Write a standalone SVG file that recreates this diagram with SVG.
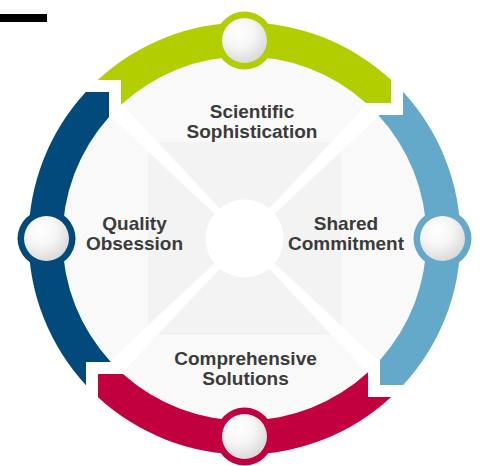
<svg xmlns="http://www.w3.org/2000/svg" xmlns:xlink="http://www.w3.org/1999/xlink" width="482" height="466" viewBox="0 0 482 466">
  <defs>
    <style>
      .lbl { font-family: "Liberation Sans", Arial, sans-serif; font-weight: bold; font-size: 19px; fill: #3b3b3b; text-anchor: middle; }
      .green { fill: #b2cd00; }
      .sky { fill: #64a9c9; }
      .crimson { fill: #c3003f; }
      .navy { fill: #024a7b; }
      .ball { fill: url(#ballGrad); }
    </style>
    <radialGradient id="ballGrad" cx="0.38" cy="0.32" r="0.75">
      <stop offset="0" stop-color="#ffffff"/>
      <stop offset="0.45" stop-color="#f6f6f6"/>
      <stop offset="1" stop-color="#d6d6d6"/>
    </radialGradient>
    <path id="seg" d="M -146.7,-158.5 A 216 216 0 0 1 146.5,-158.7 L 146.5,-135.5 L 121.5,-135.5 A 182 182 0 0 0 -123.5,-133.7 L -123.5,-158.5 Z"/>
    <polygon id="gap" points="18.7,-23.7 23.7,-18.7 147.8,-135 135,-147.8" fill="#ffffff"/>
  </defs>

  <rect x="0" y="14" width="47" height="8" fill="#000000"/>

  <g id="background" transform="translate(244.5,238.5)">
    <circle r="183" fill="#f9f9f9"/>
    <rect x="-96.5" y="-96.5" width="193" height="193" fill="#f3f3f3"/>
    <use xlink:href="#gap"/>
    <use xlink:href="#gap" transform="rotate(90)"/>
    <use xlink:href="#gap" transform="rotate(180)"/>
    <use xlink:href="#gap" transform="rotate(270)"/>
    <circle r="39" fill="#ffffff"/>
  </g>

  <g id="connectors" transform="translate(244.5,238.5)">
    <use xlink:href="#seg" class="green"/>
    <use xlink:href="#seg" class="sky" transform="rotate(90)"/>
    <use xlink:href="#seg" class="crimson" transform="rotate(180)"/>
    <use xlink:href="#seg" class="navy" transform="rotate(270)"/>
  </g>

  <g id="scientific-sophistication">
    <circle cx="244.5" cy="40.5" r="29" class="green"/>
    <circle cx="244.5" cy="40.5" r="22.5" class="ball"/>
    <text class="lbl" x="252" y="118">Scientific</text>
    <text class="lbl" x="252" y="138">Sophistication</text>
  </g>

  <g id="shared-commitment">
    <circle cx="442.5" cy="238.5" r="29" class="sky"/>
    <circle cx="442.5" cy="238.5" r="22.5" class="ball"/>
    <text class="lbl" x="346" y="230">Shared</text>
    <text class="lbl" x="346" y="250">Commitment</text>
  </g>

  <g id="comprehensive-solutions">
    <circle cx="244.5" cy="436.5" r="29" class="crimson"/>
    <circle cx="244.5" cy="436.5" r="22.5" class="ball"/>
    <text class="lbl" x="245.5" y="365">Comprehensive</text>
    <text class="lbl" x="245.5" y="385">Solutions</text>
  </g>

  <g id="quality-obsession">
    <circle cx="46.5" cy="238.5" r="29" class="navy"/>
    <circle cx="46.5" cy="238.5" r="22.5" class="ball"/>
    <text class="lbl" x="134.5" y="230">Quality</text>
    <text class="lbl" x="134.5" y="250">Obsession</text>
  </g>
</svg>
